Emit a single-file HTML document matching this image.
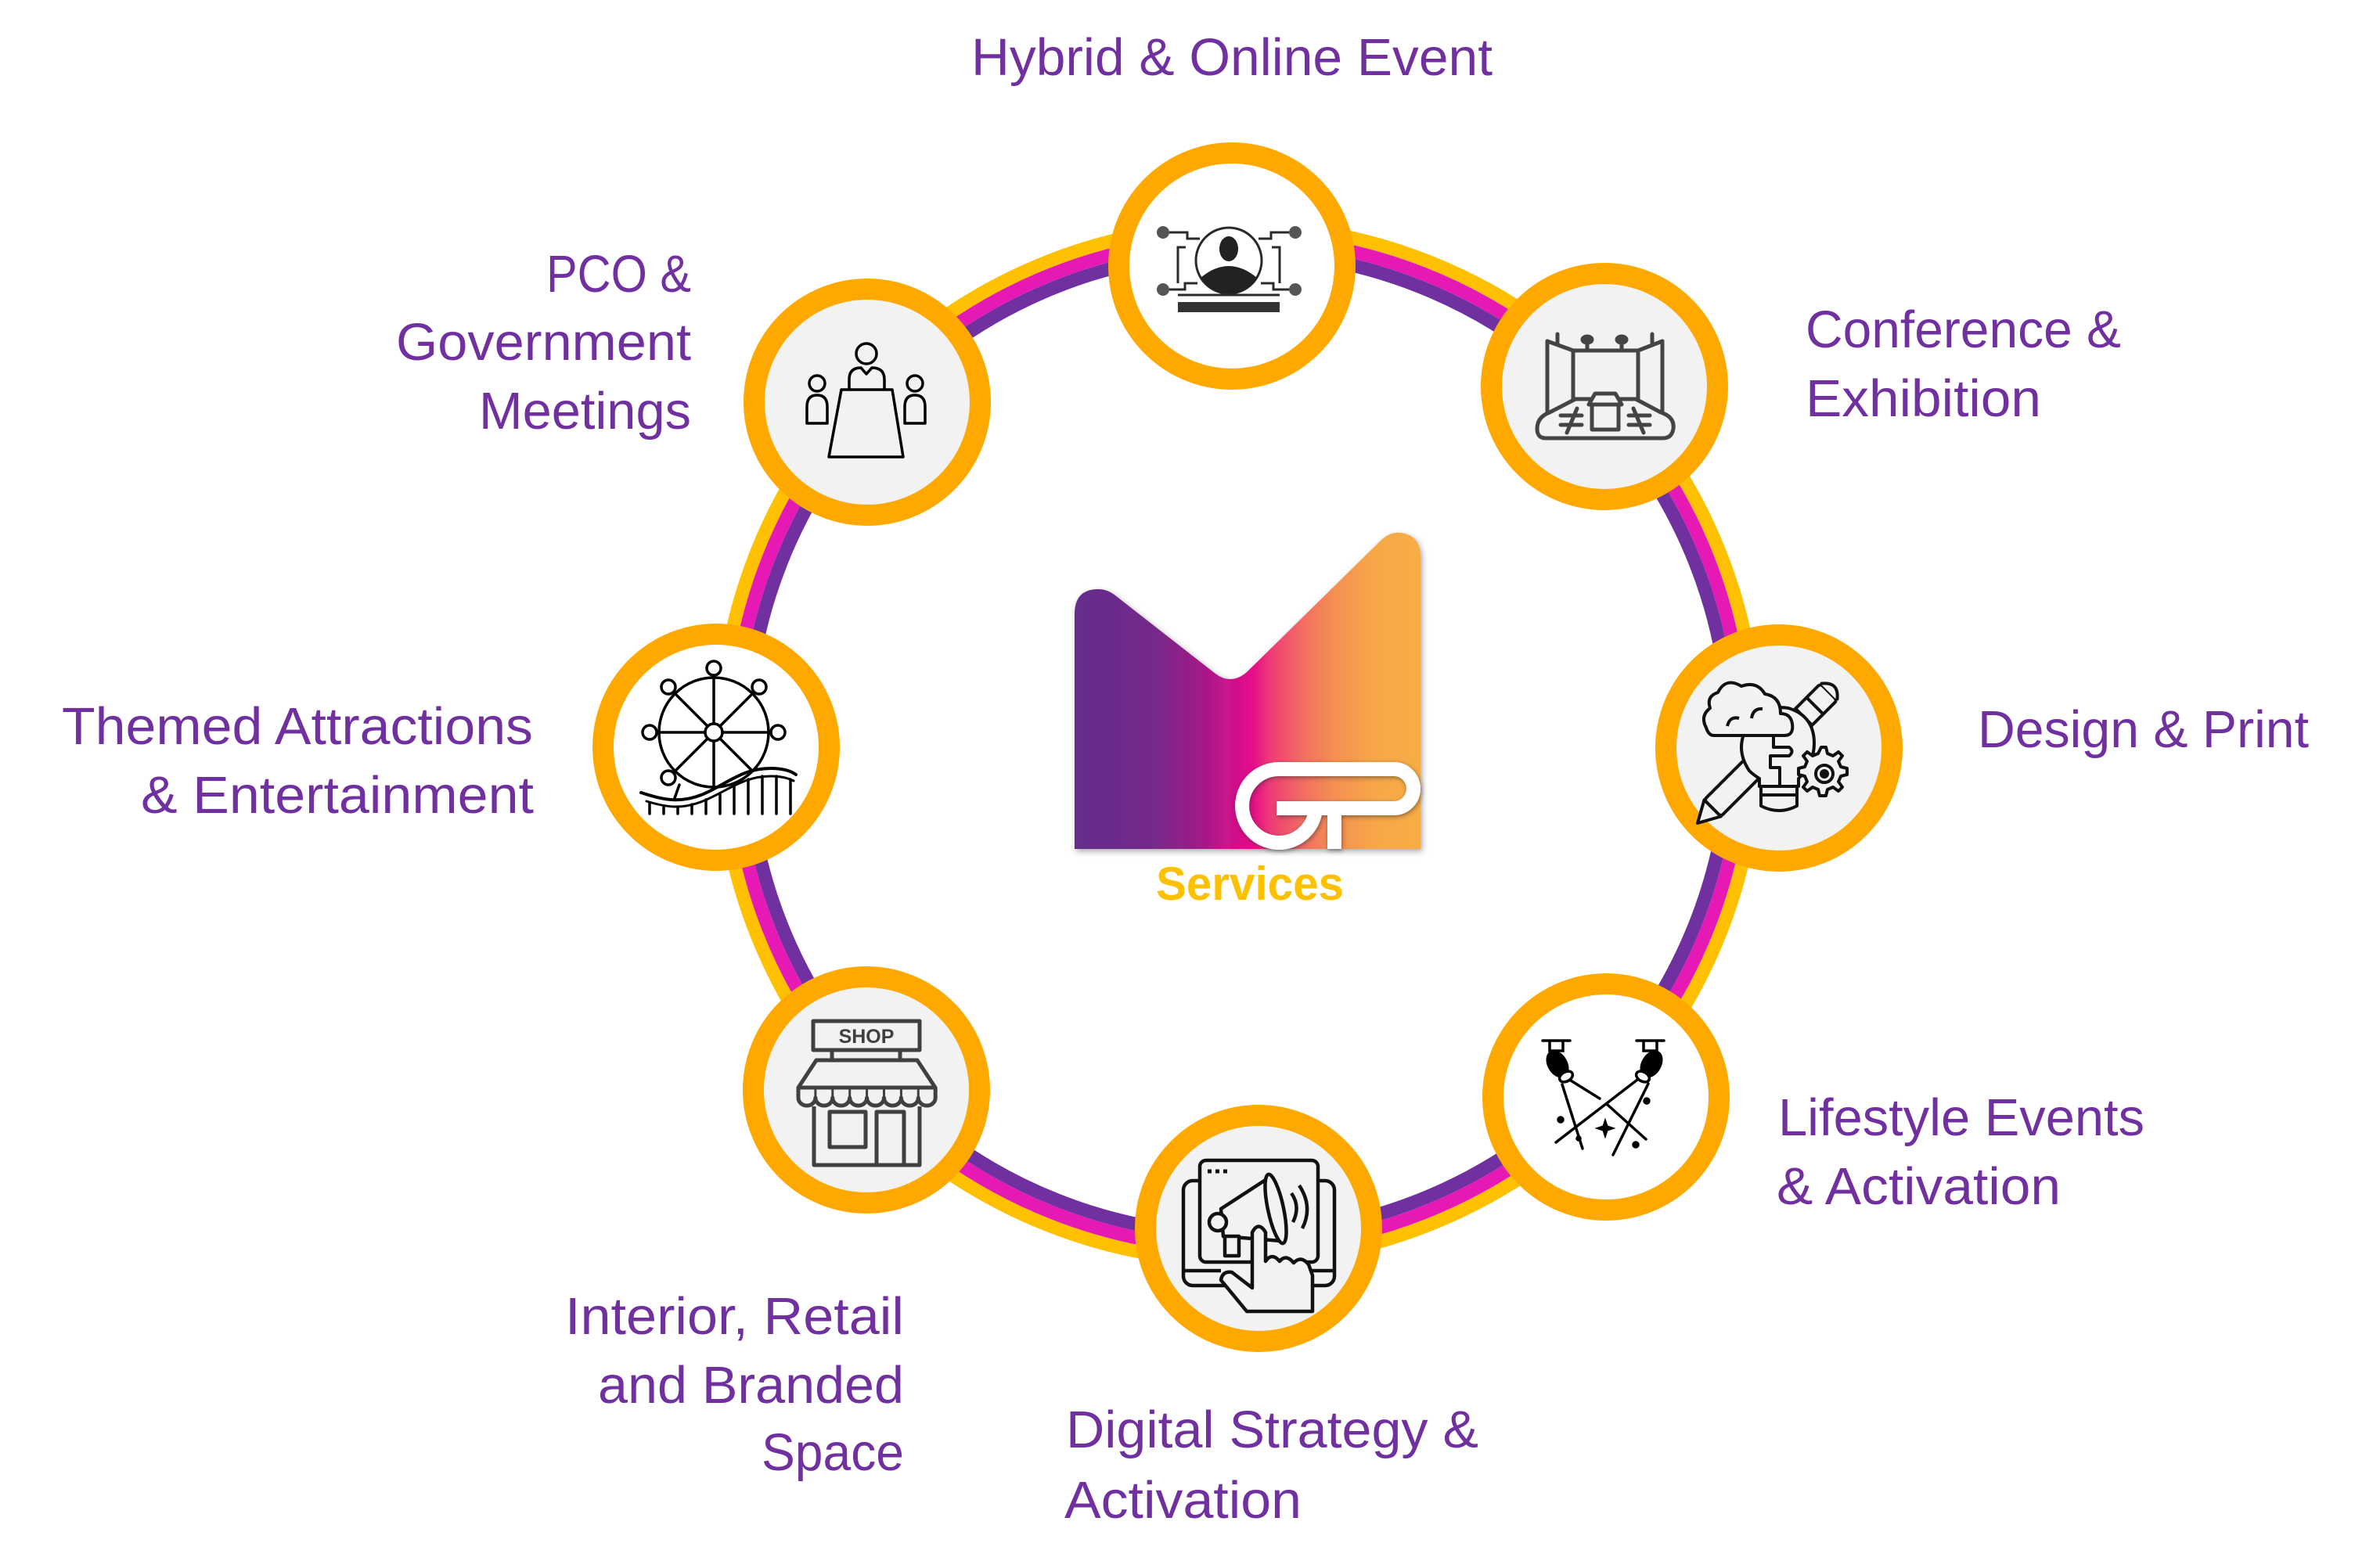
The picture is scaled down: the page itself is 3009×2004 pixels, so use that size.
<!DOCTYPE html>
<html>
<head>
<meta charset="utf-8">
<style>
html,body{margin:0;padding:0;background:#ffffff;}
svg{display:block;}
text{font-family:"Liberation Sans", Arial, sans-serif;}
</style>
</head>
<body>
<svg width="3009" height="2004" viewBox="0 0 3009 2004" xmlns="http://www.w3.org/2000/svg">
<defs>
  <linearGradient id="lg" gradientUnits="userSpaceOnUse" x1="1373" y1="0" x2="1815" y2="0">
    <stop offset="0" stop-color="#662D8C"/>
    <stop offset="0.10" stop-color="#692C8C"/>
    <stop offset="0.23" stop-color="#762A8B"/>
    <stop offset="0.36" stop-color="#A01A89"/>
    <stop offset="0.44" stop-color="#C8138A"/>
    <stop offset="0.51" stop-color="#E5098B"/>
    <stop offset="0.57" stop-color="#EE3E75"/>
    <stop offset="0.66" stop-color="#F26E62"/>
    <stop offset="0.75" stop-color="#F58F52"/>
    <stop offset="0.88" stop-color="#F6A947"/>
    <stop offset="1" stop-color="#F7AD45"/>
  </linearGradient>
  <filter id="sh" x="-10%" y="-10%" width="120%" height="120%">
    <feDropShadow dx="2" dy="3" stdDeviation="4" flood-color="#000" flood-opacity="0.35"/>
  </filter>
  <filter id="sh2" x="-20%" y="-20%" width="140%" height="140%">
    <feDropShadow dx="1" dy="2" stdDeviation="3" flood-color="#333" flood-opacity="0.55"/>
  </filter>
</defs>

<!-- ring bands -->
<circle cx="1582" cy="950" r="662" fill="none" stroke="#FFC000" stroke-width="17"/>
<circle cx="1582" cy="950" r="645" fill="none" stroke="#E619B4" stroke-width="17"/>
<circle cx="1582" cy="950" r="628" fill="none" stroke="#7030A0" stroke-width="17"/>

<!-- nodes -->
<g stroke="#FFA900" stroke-width="27">
  <circle cx="1574" cy="340" r="144.5" fill="#FFFFFF"/>
  <circle cx="2050" cy="494" r="144.5" fill="#F2F2F2"/>
  <circle cx="2273" cy="956" r="144.5" fill="#F2F2F2"/>
  <circle cx="2052" cy="1402" r="144.5" fill="#FFFFFF"/>
  <circle cx="1608" cy="1570" r="144.5" fill="#F2F2F2"/>
  <circle cx="1107" cy="1393" r="144.5" fill="#F2F2F2"/>
  <circle cx="915" cy="955" r="144.5" fill="#FFFFFF"/>
  <circle cx="1108" cy="514" r="144.5" fill="#F2F2F2"/>
</g>

<!-- ICON: top (hybrid) -->
<g stroke="#2a2a2a" stroke-width="3" fill="none">
  <circle cx="1486" cy="297" r="8" fill="#555" stroke="none"/>
  <circle cx="1655" cy="297" r="8" fill="#555" stroke="none"/>
  <circle cx="1486" cy="370" r="8" fill="#555" stroke="none"/>
  <circle cx="1655" cy="370" r="8" fill="#555" stroke="none"/>
  <path d="M1494,297 H1517 V305 H1533"/>
  <path d="M1647,297 H1624 V305 H1608"/>
  <path d="M1494,370 H1514 V362 H1530"/>
  <path d="M1647,370 H1627 V362 H1611"/>
  <path d="M1515,316 H1505 V362"/>
  <path d="M1625,316 H1635 V362"/>
  <circle cx="1570" cy="333" r="42"/>
  <ellipse cx="1570" cy="318" rx="12" ry="16" fill="#222" stroke="none"/>
  <path d="M1534,355 Q1570,325 1606,355 A42,42 0 0,1 1534,355 Z" fill="#222" stroke="none"/>
  <path d="M1505,377 H1635"/>
  <rect x="1505" y="386" width="130" height="13" fill="#333" stroke="none"/>
</g>

<!-- ICON: conference -->
<g stroke="#444" stroke-width="5" fill="none" stroke-linejoin="round" stroke-linecap="round">
  <path d="M1977,436 V527"/>
  <path d="M2124,436 V527"/>
  <path d="M1977,436 L2010,448 H2093 L2124,436"/>
  <path d="M2010,448 V512"/>
  <path d="M2093,448 V512"/>
  <path d="M1990,427 V438"/>
  <path d="M2111,427 V438"/>
  <path d="M2028,438 V448"/><ellipse cx="2028" cy="434" rx="6" ry="4" fill="#444"/>
  <path d="M2072,438 V448"/><ellipse cx="2072" cy="434" rx="6" ry="4" fill="#444"/>
  <path d="M1980,527 L2013,510 H2090 L2122,527 Q2140,533 2138,548 Q2136,560 2125,560 H1975 Q1964,560 1964,548 Q1964,533 1980,527 Z" fill="#F2F2F2"/>
  <rect x="2034" y="517" width="34" height="32" fill="#F2F2F2"/>
  <path d="M2030,517 L2038,503 H2064 L2072,517 Z" fill="#F2F2F2"/>
  <path d="M1994,531 H2021 M1994,543 H2021 M2015,522 L2002,553"/>
  <path d="M2081,531 H2108 M2081,543 H2108 M2087,522 L2100,553"/>
</g>

<!-- ICON: design -->
<g stroke="#111" stroke-width="4" fill="#F2F2F2" stroke-linejoin="round">
  <g transform="rotate(-45 2268 953)">
    <rect x="2155" y="938" width="210" height="30" rx="4"/>
    <path d="M2155,938 L2128,953 L2155,968 Z"/>
    <path d="M2320,938 V968 M2340,938 V968"/>
    <path d="M2365,938 Q2385,953 2365,968"/>
  </g>
  <path d="M2235,985 Q2215,955 2235,925 Q2255,900 2285,905 Q2318,915 2318,950 Q2318,975 2298,995 V1005 H2248 V995 Q2240,990 2235,985 Z"/>
  <path d="M2255,940 H2266 V955 H2286 Q2293,960 2286,966 H2262 V981 H2274 V1005" fill="none"/>
  <path d="M2250,1005 H2296 V1030 Q2273,1042 2250,1030 Z"/>
  <path d="M2250,1016 H2296" fill="none"/>
  <path d="M2190,940 H2280 Q2292,940 2290,925 Q2288,912 2275,912 Q2275,890 2255,887 Q2245,870 2225,877 Q2205,865 2195,885 Q2180,890 2185,905 Q2172,915 2180,930 Q2183,940 2190,940 Z"/>
  <path d="M2207,928 Q2210,915 2222,918 M2238,918 Q2240,905 2252,906" fill="none"/>
  <path d="M2327,955 l6,0 2,8 7,3 7,-5 5,5 -5,7 3,7 8,2 0,8 -8,2 -3,7 5,7 -5,5 -7,-5 -7,3 -2,8 -8,0 -2,-8 -7,-3 -7,5 -5,-5 5,-7 -3,-7 -8,-2 0,-8 8,-2 3,-7 -5,-7 5,-5 7,5 7,-3 Z"/>
  <circle cx="2331" cy="989" r="11" fill="none"/>
  <circle cx="2331" cy="989" r="4" fill="#111"/>
</g>

<!-- ICON: spotlights -->
<g stroke="#000" stroke-width="3.5" fill="none" stroke-linecap="round">
  <path d="M1971,1330 H2006 M1980,1330 V1343 H1997 V1330"/>
  <ellipse cx="1990" cy="1360" rx="11" ry="17" transform="rotate(-30 1990 1360)" fill="#000"/>
  <ellipse cx="2001" cy="1376" rx="9" ry="6" transform="rotate(-30 2001 1376)" fill="#fff"/>
  <path d="M2091,1330 H2126 M2100,1330 V1343 H2117 V1330"/>
  <ellipse cx="2110" cy="1360" rx="11" ry="17" transform="rotate(30 2110 1360)" fill="#000"/>
  <ellipse cx="2099" cy="1376" rx="9" ry="6" transform="rotate(30 2099 1376)" fill="#fff"/>
  <path d="M2007,1381 L2044,1404"/>
  <path d="M1996,1386 L2022,1468"/>
  <path d="M2054,1412 L2103,1456"/>
  <path d="M2092,1380 L1988,1460"/>
  <path d="M2106,1385 L2061,1476"/>
  <path d="M2051,1430 L2054,1439 L2063,1442 L2054,1445 L2051,1454 L2048,1445 L2039,1442 L2048,1439 Z" fill="#000" stroke-width="1"/>
  <circle cx="1994" cy="1431" r="3" fill="#000"/>
  <circle cx="2104" cy="1407" r="3" fill="#000"/>
  <circle cx="2090" cy="1463" r="3" fill="#000"/>
  <circle cx="2017" cy="1455" r="2" fill="#000"/>
</g>

<!-- ICON: digital -->
<g stroke="#111" stroke-width="4.5" fill="#F2F2F2" stroke-linejoin="round">
  <rect x="1512" y="1509" width="193" height="134" rx="12"/>
  <path d="M1512,1624 H1560 M1660,1624 H1705" fill="none"/>
  <rect x="1533" y="1483" width="151" height="130" rx="8"/>
  <path d="M1543,1497 h5 M1553,1497 h5 M1563,1497 h5" fill="none" stroke-width="5"/>
  <path d="M1560,1545 L1623,1504 L1637,1586 L1563,1580 Z"/>
  <circle cx="1556" cy="1562" r="11"/>
  <rect x="1565" y="1580" width="18" height="25"/>
  <ellipse cx="1630" cy="1545" rx="10" ry="45" transform="rotate(-12 1630 1545)"/>
  <path d="M1650,1525 Q1662,1542 1652,1562 M1660,1515 Q1678,1542 1664,1570" fill="none"/>
  <path d="M1600,1646 L1600,1575 Q1608,1560 1617,1575 L1617,1612 Q1625,1600 1635,1612 Q1643,1602 1653,1614 Q1662,1604 1672,1616 L1677,1630 V1676 H1593 L1560,1636 Q1562,1624 1574,1626 Z"/>
</g>

<!-- ICON: shop -->
<g stroke="#404040" stroke-width="5" fill="none" stroke-linejoin="round">
  <rect x="1039" y="1305" width="136" height="37"/>
  <path d="M1063,1342 V1355 M1150,1342 V1355"/>
  <path d="M1043,1355 H1172 L1195,1390 H1020 Z"/>
  <path d="M1020,1390 V1403 A10.9,10 0 0,0 1041.9,1403 A10.9,10 0 0,0 1063.8,1403 A10.9,10 0 0,0 1085.7,1403 A10.9,10 0 0,0 1107.6,1403 A10.9,10 0 0,0 1129.5,1403 A10.9,10 0 0,0 1151.4,1403 A10.9,10 0 0,0 1173.3,1403 A10.9,10 0 0,0 1195.2,1403 V1390"/>
  <path d="M1041.9,1390 V1403 M1063.8,1390 V1403 M1085.7,1390 V1403 M1107.6,1390 V1403 M1129.5,1390 V1403 M1151.4,1390 V1403 M1173.3,1390 V1403" stroke-width="3"/>
  <path d="M1040,1414 V1489 H1175 V1414"/>
  <rect x="1060" y="1421" width="46" height="45"/>
  <rect x="1120" y="1421" width="35" height="68"/>
</g>
<text x="1107" y="1333" font-size="25" font-weight="bold" fill="#404040" text-anchor="middle">SHOP</text>

<!-- ICON: ferris wheel -->
<g stroke="#000" stroke-width="3.5" fill="none" stroke-linecap="round">
  <circle cx="912" cy="936" r="70"/>
  <path d="M912,866 V1006 M842,936 H982 M862.5,886.5 L961.5,985.5 M961.5,886.5 L862.5,985.5"/>
  <circle cx="912" cy="936" r="11" fill="#fff"/>
  <circle cx="912" cy="854" r="9" fill="#fff"/>
  <circle cx="854" cy="878" r="9" fill="#fff"/>
  <circle cx="970" cy="878" r="9" fill="#fff"/>
  <circle cx="830" cy="936" r="9" fill="#fff"/>
  <circle cx="994" cy="936" r="9" fill="#fff"/>
  <circle cx="854" cy="994" r="9" fill="#fff"/>
  <path d="M868,1003 L862,1020"/>
  <path d="M819,1013 C850,1023 872,1028 905,1012 C935,997 952,982 985,982 C1000,982 1010,985 1017,990" stroke-width="4"/>
  <path d="M826,1024 C852,1032 874,1036 907,1020 C936,1006 954,992 985,992 C998,992 1008,995 1014,998" stroke-width="3"/>
  <path d="M830,1026 V1040 M848,1030 V1040 M866,1032 V1040 M884,1028 V1040 M902,1022 V1040 M920,1014 V1040 M938,1004 V1040 M956,996 V1040 M974,992 V1040 M992,992 V1040 M1010,996 V1040"/>
</g>

<!-- ICON: meeting -->
<g stroke="#000" stroke-width="3.5" fill="none" stroke-linejoin="round">
  <circle cx="1107" cy="452" r="13"/>
  <path d="M1085,498 V485 Q1085,470 1100,470 L1107,478 L1114,470 Q1130,470 1130,485 V498"/>
  <path d="M1075,498 H1140 L1154,584 H1059 Z" fill="#F2F2F2"/>
  <circle cx="1044" cy="490" r="10"/>
  <path d="M1031,541 V520 Q1031,505 1044,505 Q1057,505 1057,520 V541 Z"/>
  <circle cx="1169" cy="490" r="10"/>
  <path d="M1156,541 V520 Q1156,505 1169,505 Q1182,505 1182,520 V541 Z"/>
</g>

<!-- LOGO -->
<path filter="url(#sh)" fill="url(#lg)" d="M1373,1085 L1373,785 Q1373,753 1403,753 Q1415,753 1425,761 L1553,861 Q1573,876 1593,859 L1765,690 Q1777,679 1790,681 Q1815,684 1815,712 L1815,1085 Z"/>
<g filter="url(#sh2)" stroke="#FFFFFF" stroke-width="18" fill="none" stroke-linejoin="round">
  <path d="M1634,983 A47,47 0 1,0 1681,1033"/>
  <path d="M1631,1033 L1781,1033 A25,25 0 0,0 1781,983 L1634,983"/>
  <path d="M1705,1033 L1705,1085"/>
</g>
<text x="1477" y="1150" font-size="60" font-weight="bold" fill="#FFC000" textLength="240" lengthAdjust="spacingAndGlyphs">Services</text>

<!-- LABELS -->
<g fill="#7030A0" font-size="67">
  <text x="1241" y="96" textLength="666" lengthAdjust="spacingAndGlyphs">Hybrid &amp; Online Event</text>
  <text x="2307" y="444" textLength="403" lengthAdjust="spacingAndGlyphs">Conference &amp;</text>
  <text x="2307" y="532" textLength="301" lengthAdjust="spacingAndGlyphs">Exhibition</text>
  <text x="2527" y="955" textLength="423" lengthAdjust="spacingAndGlyphs">Design &amp; Print</text>
  <text x="2272" y="1451" textLength="468" lengthAdjust="spacingAndGlyphs">Lifestyle Events</text>
  <text x="2270" y="1539" textLength="363" lengthAdjust="spacingAndGlyphs">&amp; Activation</text>
  <text x="1362" y="1850" textLength="527" lengthAdjust="spacingAndGlyphs">Digital Strategy &amp;</text>
  <text x="1360" y="1940" textLength="303" lengthAdjust="spacingAndGlyphs">Activation</text>
  <text x="722" y="1705" textLength="433" lengthAdjust="spacingAndGlyphs">Interior, Retail</text>
  <text x="764" y="1793" textLength="391" lengthAdjust="spacingAndGlyphs">and Branded</text>
  <text x="973" y="1879" textLength="182" lengthAdjust="spacingAndGlyphs">Space</text>
  <text x="79" y="951" textLength="602" lengthAdjust="spacingAndGlyphs">Themed Attractions</text>
  <text x="180" y="1039" textLength="502" lengthAdjust="spacingAndGlyphs">&amp; Entertainment</text>
  <text x="698" y="373" textLength="185" lengthAdjust="spacingAndGlyphs">PCO &amp;</text>
  <text x="506" y="460" textLength="377" lengthAdjust="spacingAndGlyphs">Government</text>
  <text x="612" y="548" textLength="271" lengthAdjust="spacingAndGlyphs">Meetings</text>
</g>
</svg>
</body>
</html>
